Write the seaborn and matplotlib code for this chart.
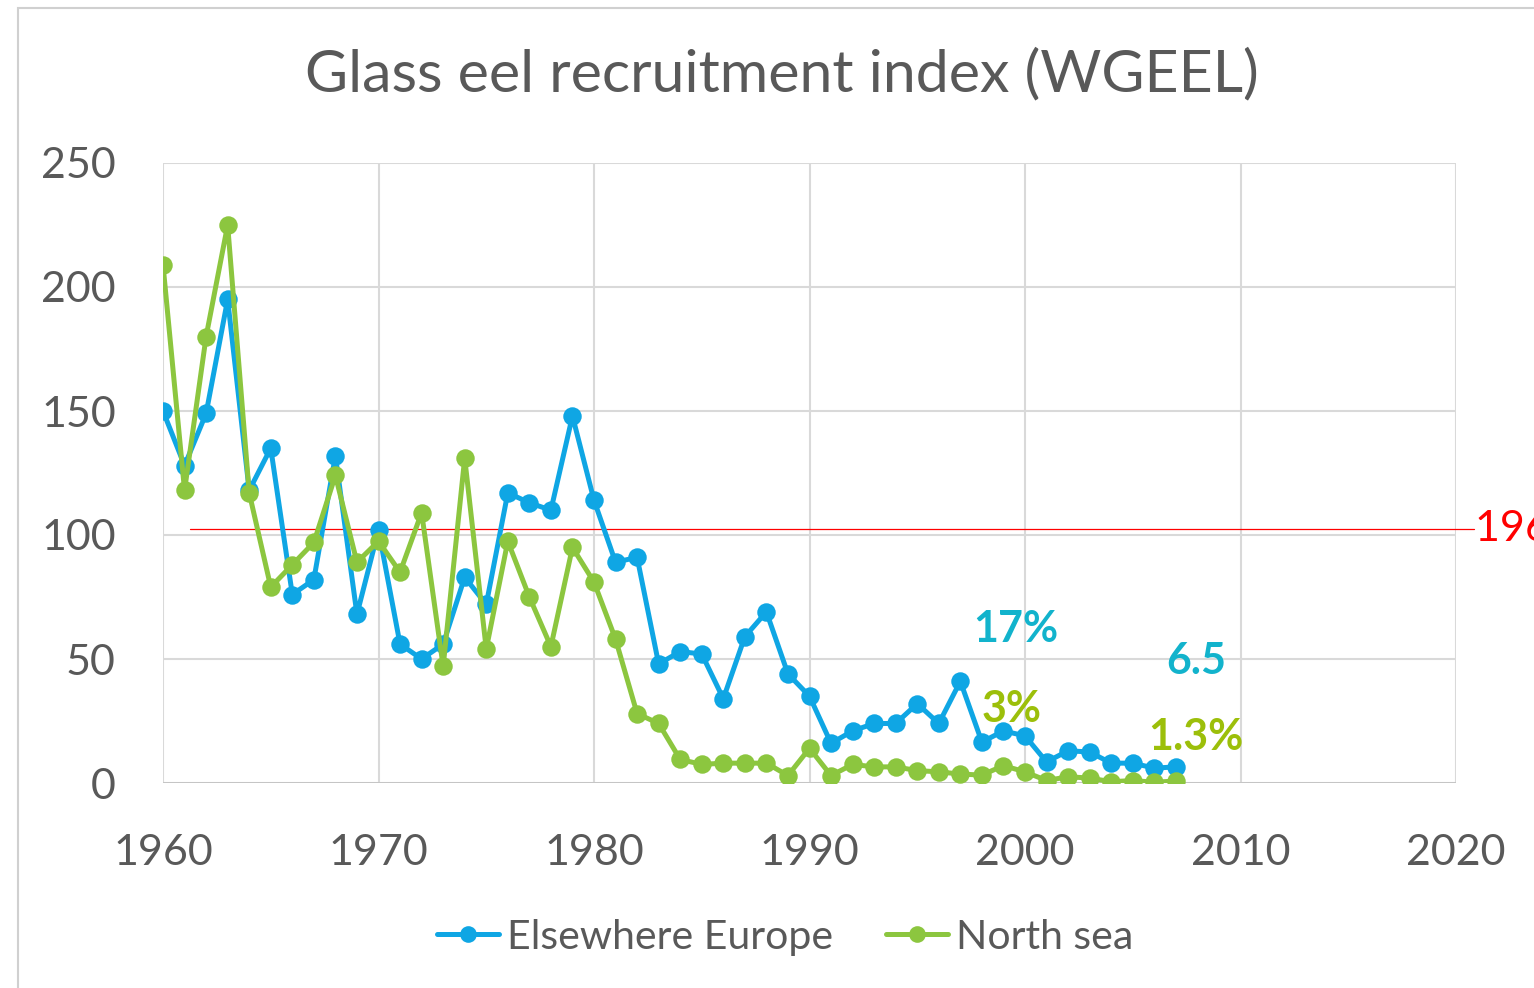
import numpy as np
import pandas as pd
import matplotlib
matplotlib.use("Agg")
import matplotlib.pyplot as plt
from matplotlib.patches import Rectangle
from matplotlib.lines import Line2D
import seaborn as sns

# ---- data ----
years = list(range(1960, 2008))
elsewhere_europe = [150, 128, 149, 195, 118, 135, 76, 82, 132, 68,
                    102, 56, 50, 56, 83, 72, 117, 113, 110, 148,
                    114, 89, 91, 48, 53, 52, 34, 59, 69, 44,
                    35, 16, 21, 24, 24, 32, 24, 41, 16.5, 21,
                    19, 8.5, 13, 12.5, 8, 8, 6, 6.5]
north_sea = [209, 118, 180, 225, 117, 79, 88, 97, 124, 89,
             97.5, 85, 109, 47, 131, 54, 97.5, 75, 55, 95,
             81, 58, 28, 24, 9.5, 7.5, 8, 8, 8, 3,
             14, 3, 7.5, 6.5, 6.5, 5, 4.5, 3.6, 3.2, 7,
             4.5, 1, 2.5, 2, 0.5, 1, 0.3, 0.8]
series_names = ["Elsewhere Europe", "North sea"]
ref_level = 102.4
ref_label = "1960-1979 level"
annot_texts = ["17%", "6.5", "3%", "1.3%"]
annot_x = [1999.55, 2007.95, 1999.4, 2007.95]
annot_y = [62, 49, 30, 18.5]

blue = "#0FA6E4"
green = "#8CC63F"
annot_cols = ["#12B3CC", "#12B3CC", "#9CBF0A", "#9CBF0A"]

df = pd.DataFrame({
    "year": years * 2,
    "value": elsewhere_europe + north_sea,
    "series": [series_names[0]] * len(years) + [series_names[1]] * len(years),
})

sns.set_theme(style="white")
plt.rcParams["font.family"] = ["Lato", "DejaVu Sans"]
txt = "#595959"

fig = plt.figure(figsize=(15.34, 9.88), dpi=100)
ax = fig.add_axes([163 / 1534, 1 - 783 / 988, (1456 - 163) / 1534, 620 / 988])

# chart frame
fig.patches.append(Rectangle((18 / 1534, -0.05), 1.1, 1.05 - 8 / 988, transform=fig.transFigure,
                             fill=False, edgecolor="#d0d0d0", linewidth=1.5, zorder=0))

sns.lineplot(data=df, x="year", y="value", hue="series", palette=[blue, green],
             marker="o", linewidth=3.6, legend=False, ax=ax, zorder=3)
for ln in ax.lines:
    ln.set_markersize(13.3)
    ln.set_markeredgewidth(0)

ax.set_xlim(1960, 2020)
ax.set_ylim(0, 250)
ax.set_xticks(range(1960, 2021, 10))
ax.set_yticks(range(0, 251, 50))
ax.grid(True, color="#d9d9d9", linewidth=1.5, zorder=0)
for s in ax.spines.values():
    s.set_visible(False)
ax.axhline(0, color="#bfbfbf", linewidth=1.8, zorder=1)
ax.tick_params(axis="both", length=0, labelsize=31, labelcolor=txt)
ax.tick_params(axis="x", pad=37)
ax.tick_params(axis="y", pad=34)
ax.set_xlabel("")
ax.set_ylabel("")

# reference level line and its (cut-off) label
ax.plot([1961.25, 2020.85], [ref_level, ref_level], color="#ff0000", linewidth=0.9,
        clip_on=False, zorder=2)
ax.text(2020.9, ref_level, ref_label, color="#ff0000", fontsize=31, va="center", ha="left",
        clip_on=False)

for t, x, y, c in zip(annot_texts, annot_x, annot_y, annot_cols):
    ax.text(x, y, t, color=c, fontsize=31, fontweight="bold", ha="center", va="center", zorder=5)

fig.text(0.510, 1 - 75 / 988, "Glass eel recruitment index (WGEEL)", ha="center", va="center",
         fontsize=42.5, color=txt)

handles = [Line2D([], [], color=blue, marker="o", markersize=12, markeredgewidth=0, linewidth=3.6),
           Line2D([], [], color=green, marker="o", markersize=12, markeredgewidth=0, linewidth=3.6)]
leg = fig.legend(handles, series_names, loc="center", bbox_to_anchor=(0.512, 1 - 937 / 988),
                 ncol=2, frameon=False, fontsize=29.5, handlelength=1.5, handletextpad=0.2,
                 columnspacing=1.3)
for t in leg.get_texts():
    t.set_color(txt)

fig.savefig("out.png", dpi=100)
